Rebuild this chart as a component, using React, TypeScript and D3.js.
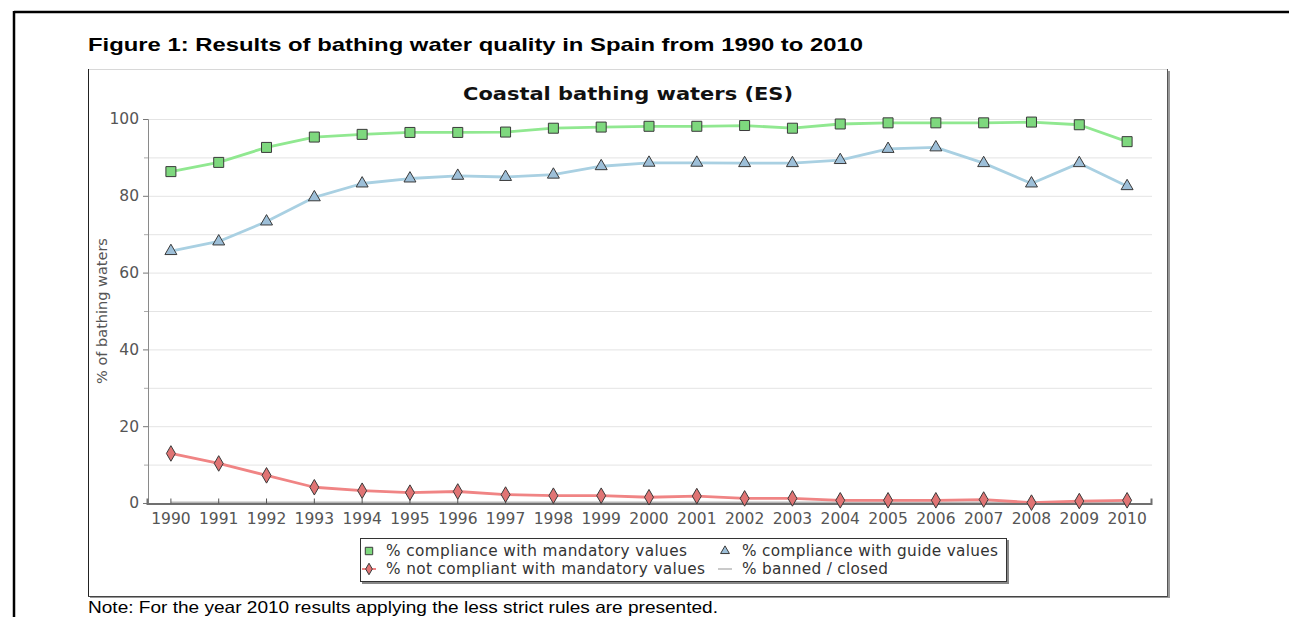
import { useEffect, useRef } from 'react';
import * as d3 from 'd3';

// Values (EEA bathing water report, Spain, coastal)
const years = [
  '1990', '1991', '1992', '1993', '1994', '1995', '1996', '1997', '1998', '1999', '2000',
  '2001', '2002', '2003', '2004', '2005', '2006', '2007', '2008', '2009', '2010',
];
const mandatory = [
  86.3, 88.7, 92.6, 95.3, 96.0, 96.5, 96.5, 96.6, 97.6, 97.9, 98.1,
  98.1, 98.3, 97.6, 98.7, 99.0, 99.0, 99.0, 99.2, 98.5, 94.1,
];
const guide = [
  65.6, 68.1, 73.3, 79.6, 83.2, 84.5, 85.2, 84.9, 85.5, 87.7, 88.6,
  88.6, 88.5, 88.5, 89.3, 92.2, 92.6, 88.5, 83.2, 88.5, 82.5,
];
const notCompliant = [
  12.9, 10.3, 7.2, 4.1, 3.2, 2.7, 3.0, 2.2, 1.9, 1.9, 1.5,
  1.8, 1.2, 1.2, 0.7, 0.7, 0.7, 0.9, 0.1, 0.5, 0.7,
];
const banned = [
  0, 0, 0, 0, 0, 0, 0, 0, 0, 0, 0,
  0, 0, 0, 0, 0, 0, 0, 0, 0, 0,
];
const yTicks = [0, 20, 40, 60, 80, 100];
const yGrid = [10, 20, 30, 40, 50, 60, 70, 80, 90, 100];

const figureTitle = 'Figure 1: Results of bathing water quality in Spain from 1990 to 2010';
const chartTitle = 'Coastal bathing waters (ES)';
const yTitle = '% of bathing waters';
const note = 'Note: For the year 2010 results applying the less strict rules are presented.';

const series = [
  { name: '% compliance with mandatory values', values: mandatory, line: '#90e890', fill: '#7ed87e', symbol: d3.symbolSquare, size: 100, labelW: 301 },
  { name: '% compliance with guide values', values: guide, line: '#a9d0e2', fill: '#9dbfd8', symbol: d3.symbolTriangle, size: 62, labelW: 256 },
  { name: '% not compliant with mandatory values', values: notCompliant, line: '#f08484', fill: '#e07474', symbol: d3.symbolDiamond, size: 70, labelW: 319 },
  { name: '% banned / closed', values: banned, line: '#b8b8b8', fill: 'none', symbol: null, size: 0, labelW: 146 },
];

const W = 1289;
const H = 617;
const font = '"DejaVu Sans", sans-serif';

export default function App() {
  const ref = useRef<SVGSVGElement | null>(null);

  useEffect(() => {
    const svg = d3.select(ref.current);
    svg.selectAll('*').remove();

    const x = d3.scaleBand<string>().domain(years).range([147, 1151]);
    const y = d3.scaleLinear().domain([0, 100]).range([503, 119]);
    const cx = (d: string) => (x(d) ?? 0) + x.bandwidth() / 2;

    svg.append('rect').attr('width', W).attr('height', H).attr('fill', '#ffffff');

    // page frame
    svg.append('line').attr('x1', 14).attr('x2', W).attr('y1', 12).attr('y2', 12)
      .attr('stroke', '#000').attr('stroke-width', 2.5);
    svg.append('line').attr('x1', 14).attr('x2', 14).attr('y1', 11).attr('y2', H)
      .attr('stroke', '#000').attr('stroke-width', 2.5);

    svg.append('text').attr('x', 88).attr('y', 51)
      .attr('font-family', '"Liberation Sans", Arial, sans-serif').attr('font-weight', 'bold')
      .attr('font-size', 19).attr('textLength', 775).attr('lengthAdjust', 'spacingAndGlyphs')
      .text(figureTitle);

    // chart frame
    svg.append('rect').attr('x', 90).attr('y', 71).attr('width', 1080).attr('height', 527).attr('fill', '#999');
    svg.append('rect').attr('x', 88.5).attr('y', 69.5).attr('width', 1079).attr('height', 527)
      .attr('fill', '#fff').attr('stroke', '#d8d8d8');
    svg.append('line').attr('x1', 88.5).attr('x2', 88.5).attr('y1', 69).attr('y2', 597).attr('stroke', '#222');
    svg.append('line').attr('x1', 88).attr('x2', 1168).attr('y1', 596.5).attr('y2', 596.5).attr('stroke', '#444');
    svg.append('line').attr('x1', 1167.5).attr('x2', 1167.5).attr('y1', 69).attr('y2', 597).attr('stroke', '#555');

    svg.append('text').attr('x', 628).attr('y', 100).attr('text-anchor', 'middle')
      .attr('font-family', font).attr('font-weight', 'bold').attr('font-size', 17.5)
      .attr('textLength', 330).attr('lengthAdjust', 'spacingAndGlyphs').attr('fill', '#111')
      .text(chartTitle);

    // gridlines
    svg.append('g').selectAll('line').data(yGrid).join('line')
      .attr('x1', 148).attr('x2', 1152).attr('y1', (d) => y(d) + 0.5).attr('y2', (d) => y(d) + 0.5)
      .attr('stroke', '#e4e4e4');

    // y axis
    const yAxis = svg.append('g').attr('transform', 'translate(148,0)')
      .call(d3.axisLeft(y).tickValues(yTicks).tickSize(5).tickPadding(4));
    yAxis.select('.domain').attr('stroke', '#8a8a8a');
    yAxis.selectAll('.tick line').attr('stroke', '#777').attr('x2', -5);
    yAxis.selectAll('.tick text').attr('font-family', font).attr('font-size', 15.5).attr('fill', '#555');
    svg.append('g').selectAll('line').data(yGrid.filter((d) => d % 20 !== 0)).join('line')
      .attr('x1', 148).attr('x2', 144).attr('y1', (d) => y(d) + 0.5).attr('y2', (d) => y(d) + 0.5)
      .attr('stroke', '#aaa');

    svg.append('text')
      .attr('transform', `translate(107,${(y(0) + y(100)) / 2}) rotate(-90)`)
      .attr('text-anchor', 'middle').attr('font-family', font).attr('font-size', 14.5).attr('fill', '#555')
      .text(yTitle);

    // lines and markers
    const line = d3.line<number>().x((_, i) => cx(years[i])).y((d) => y(d));
    const order = [3, 2, 1, 0];
    for (const k of order) {
      const s = series[k];
      svg.append('path').datum(s.values).attr('d', line).attr('fill', 'none')
        .attr('stroke', s.line).attr('stroke-width', 2.8).attr('stroke-linejoin', 'round');
    }

    // x axis
    const xAxis = svg.append('g').attr('transform', 'translate(0,503.5)')
      .call(d3.axisBottom(x).tickSize(-5).tickPadding(9));
    xAxis.select('.domain').attr('stroke', '#707070').attr('stroke-width', 2);
    xAxis.selectAll('.tick line').attr('stroke', '#555');
    xAxis.selectAll('.tick text').attr('font-family', font).attr('font-size', 15.5).attr('fill', '#555');

    for (const k of order) {
      const s = series[k];
      if (!s.symbol) continue;
      const sym = d3.symbol().type(s.symbol).size(s.size);
      svg.append('g').selectAll('path').data(s.values).join('path')
        .attr('transform', (d, i) => `translate(${cx(years[i])},${y(d)})`)
        .attr('d', sym).attr('fill', s.fill).attr('stroke', '#3a3a3a').attr('stroke-width', 1);
    }

    // legend
    const lg = svg.append('g');
    lg.append('rect').attr('x', 362).attr('y', 540).attr('width', 647).attr('height', 44).attr('fill', '#888');
    lg.append('rect').attr('x', 360.5).attr('y', 538.5).attr('width', 646).attr('height', 43)
      .attr('fill', '#fff').attr('stroke', '#333');
    const cols = [369, 725];
    const rows = [551, 569];
    series.forEach((s, i) => {
      const lx = cols[i % 2];
      const ly = rows[Math.floor(i / 2)];
      const item = lg.append('g').attr('transform', `translate(${lx},${ly})`);
      if (i === 2 || i === 3) {
        item.append('line').attr('x1', -7).attr('x2', 7).attr('stroke', s.line).attr('stroke-width', i === 2 ? 2 : 1.5);
      }
      if (s.symbol) {
        item.append('path').attr('d', d3.symbol().type(s.symbol).size(s.size * 0.55))
          .attr('fill', s.fill).attr('stroke', '#3a3a3a');
      }
      item.append('text').attr('x', 17).attr('y', 5).attr('font-family', font).attr('font-size', 15.3)
        .attr('textLength', s.labelW).attr('lengthAdjust', 'spacing')
        .attr('fill', '#333').text(s.name);
    });

    svg.append('text').attr('x', 88).attr('y', 613)
      .attr('font-family', '"Liberation Sans", Arial, sans-serif').attr('font-size', 16.5)
      .attr('textLength', 630).attr('lengthAdjust', 'spacingAndGlyphs').attr('fill', '#000')
      .text(note);
  }, []);

  return (
    <svg ref={ref} width={W} height={H}
      style={{ position: 'absolute', left: 0, top: 0, display: 'block' }} />
  );
}
